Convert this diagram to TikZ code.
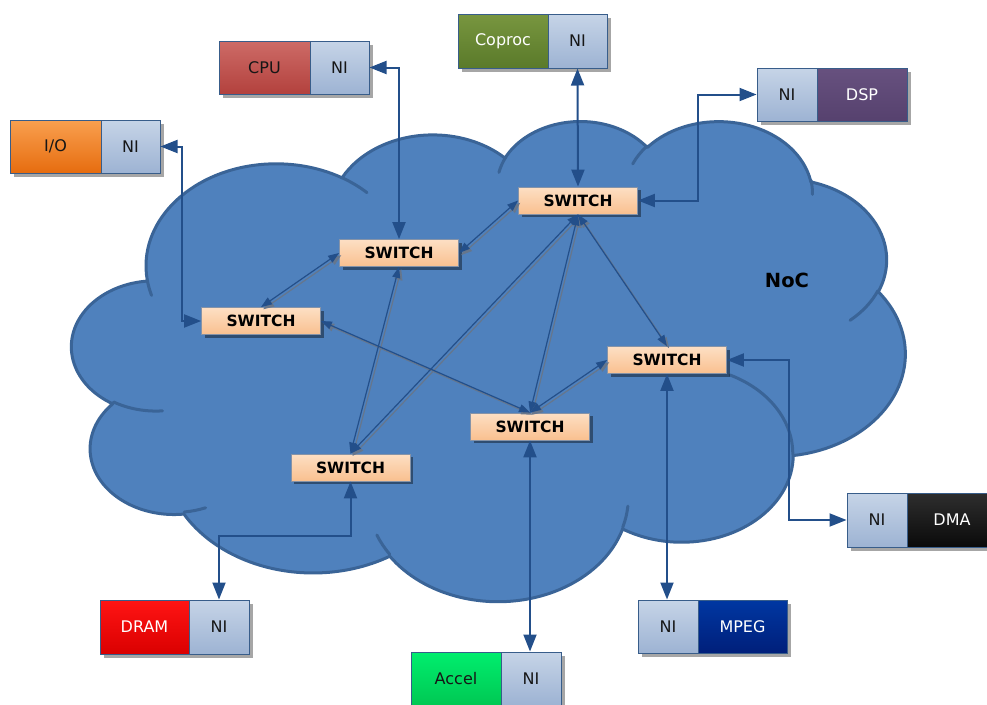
\documentclass[tikz,border=0pt]{standalone}
\usepackage{fontspec}
\setmainfont{DejaVu Sans}
\usetikzlibrary{arrows.meta,shadows}

\definecolor{cloudfill}{HTML}{4F81BD}
\definecolor{cloudline}{HTML}{3A6497}
\definecolor{boxline}{HTML}{385D8A}
\definecolor{linkblue}{HTML}{234F8A}
\definecolor{meshshade}{HTML}{66768C}
\definecolor{niTop}{HTML}{C6D4E7}
\definecolor{niBot}{HTML}{9DB3D3}
\definecolor{swTop}{HTML}{FDDFC4}
\definecolor{swBot}{HTML}{F9C08F}
\definecolor{swLine}{HTML}{8593A8}
\definecolor{txtdark}{HTML}{161616}
\definecolor{cpuTop}{HTML}{CD6B67}\definecolor{cpuBot}{HTML}{B3413D}
\definecolor{copTop}{HTML}{78963F}\definecolor{copBot}{HTML}{5A7A2A}
\definecolor{dspTop}{HTML}{67517F}\definecolor{dspBot}{HTML}{56416E}
\definecolor{ioTop}{HTML}{F9A04F}\definecolor{ioBot}{HTML}{E66C0F}
\definecolor{dmaTop}{HTML}{2E2E2E}\definecolor{dmaBot}{HTML}{0A0A0A}
\definecolor{mpgTop}{HTML}{0037A2}\definecolor{mpgBot}{HTML}{001F7A}
\definecolor{drmTop}{HTML}{FF1414}\definecolor{drmBot}{HTML}{DA0000}
\definecolor{accTop}{HTML}{00EE6E}\definecolor{accBot}{HTML}{00C853}

\newcommand\boxfont{\fontsize{16}{19}\selectfont}
\newcommand\swfont{\bfseries\fontsize{15.5}{18}\selectfont}

\tikzset{
  part/.style={draw=boxline, line width=1pt, inner sep=0pt, minimum height=53pt,
    font=\boxfont, text=txtdark,
    drop shadow={shadow xshift=3.5pt, shadow yshift=-3.5pt, fill=black, opacity=0.35}},
  nipart/.style={part, top color=niTop, bottom color=niBot, minimum width=59pt},
  unit/.style={part, top color=#1Top, bottom color=#1Bot, minimum width=90pt},
  switchbox/.style={draw=swLine, line width=0.8pt, inner sep=0pt,
    minimum width=119pt, minimum height=27pt, font=\swfont, text=black,
    top color=swTop, bottom color=swBot,
    drop shadow={shadow xshift=3pt, shadow yshift=-3pt, fill=black, opacity=0.4}},
  nilink/.style={draw=linkblue, line width=2pt,
    {Triangle[length=17pt,width=13pt]}-{Triangle[length=17pt,width=13pt]}},
  mesh/.style={draw=linkblue, line width=1.2pt,
    {Triangle[length=11pt,width=8pt]}-{Triangle[length=11pt,width=8pt]}},
  meshshadow/.style={mesh, draw=meshshade, transform canvas={shift={(2.2,2.2)}}}
}

\begin{document}
\begin{tikzpicture}[x=1pt,y=-1pt]
\useasboundingbox (0,0) rectangle (987,704);
\clip (0,0) rectangle (987,704);

% ---------- network cloud ----------
\begin{scope}[shift={(72,120)}]
\begin{scope}[x=1.92824pt,y=-1.11111pt]
\path[fill=cloudfill, draw=cloudline, line width=3pt, line join=round]
  (39.00,143.70)
  arc[start angle=172.253,  delta angle=128.111, x radius=67.53, y radius=91.90]
  arc[start angle=-152.055, delta angle=106.600, x radius=53.33, y radius=72.67]
  arc[start angle=-153.496, delta angle=116.178, x radius=43.65, y radius=59.45]
  arc[start angle=-139.711, delta angle=129.500, x radius=48.57, y radius=65.95]
  arc[start angle=-74.768,  delta angle=97.977,  x radius=53.33, y radius=72.73]
  arc[start angle=-37.515,  delta angle=119.377, x radius=67.75, y radius=92.20]
  arc[start angle=0.460,    delta angle=121.517, x radius=57.85, y radius=78.67]
  arc[start angle=16.844,   delta angle=129.380, x radius=67.52, y radius=92.15]
  arc[start angle=58.983,   delta angle=91.207,  x radius=77.20, y radius=105.43]
  arc[start angle=83.306,   delta angle=139.807, x radius=43.60, y radius=59.18]
  arc[start angle=120.36,   delta angle=143.752, x radius=43.45, y radius=59.45]
  -- cycle;
% inner folds of the lobes
\draw[cloudline, line width=3pt, line cap=round]
  (46.93,261.77)  arc[start angle=85.546,   delta angle=34.814, x radius=43.45, y radius=59.45]
  (69.28,348.99)  arc[start angle=68.236,   delta angle=15.070, x radius=43.60, y radius=59.18]
  (164.78,390.90) arc[start angle=146.224,  delta angle=12.250, x radius=67.52, y radius=92.15]
  (288.27,347.51) arc[start angle=4.738,    delta angle=12.106, x radius=67.52, y radius=92.15]
  (341.29,229.54) arc[start angle=-64.021,  delta angle=64.481, x radius=57.85, y radius=78.67]
  (417.98,153.54) arc[start angle=23.209,   delta angle=26.433, x radius=53.33, y radius=72.73]
  (383.24,54.26)  arc[start angle=-10.211,  delta angle=11.032, x radius=48.57, y radius=65.95]
  (290.78,39.52)  arc[start angle=-156.285, delta angle=16.574, x radius=48.57, y radius=65.95]
  (221.41,47.20)  arc[start angle=-167.726, delta angle=14.230, x radius=43.65, y radius=59.45]
  (140.00,51.92)  arc[start angle=-59.636,  delta angle=13.902, x radius=67.53, y radius=91.90]
  (41.27,157.89)  arc[start angle=163.193,  delta angle=9.060,  x radius=67.53, y radius=91.90];
\end{scope}
\end{scope}

% ---------- switches ----------
\node[switchbox] (s1) at (578,200.5) {SWITCH};
\node[switchbox] (s2) at (399,253)   {SWITCH};
\node[switchbox] (s3) at (261,321)   {SWITCH};
\node[switchbox] (s4) at (667,360)   {SWITCH};
\node[switchbox] (s5) at (530,426.5) {SWITCH};
\node[switchbox] (s6) at (350.5,467.5) {SWITCH};

\node[font=\bfseries\fontsize{19.5}{23}\selectfont, text=black] (noc) at (787,280) {NoC};

% ---------- processing elements with network interfaces ----------
\node[unit=cpu, minimum width=91pt] (cpu) at (264.5,67.5) {CPU};
\node[nipart] (cpuni) at (339.5,67.5) {NI};

\node[unit=cop, minimum height=54pt, text=white] (coproc) at (503,41) {Coproc};
\node[nipart, minimum height=54pt] (coprocni) at (577.5,41) {NI};

\node[nipart, minimum width=60pt] (dspni) at (787,94.5) {NI};
\node[unit=dsp, text=white] (dsp) at (862,94.5) {DSP};

\node[unit=io, minimum width=91pt] (io) at (55.5,146.5) {I/O};
\node[nipart] (ioni) at (130.5,146.5) {NI};

\node[nipart, minimum width=60pt, minimum height=54pt] (dmani) at (877,520) {NI};
\node[unit=dma, minimum height=54pt, text=white] (dma) at (952,520) {DMA};

\node[nipart, minimum width=60pt] (mpegni) at (668,626.5) {NI};
\node[unit=mpg, minimum width=89pt, text=white] (mpeg) at (742.5,626.5) {MPEG};

\node[unit=drm, minimum width=89pt, minimum height=54pt, text=white] (dram) at (144.5,627) {DRAM};
\node[nipart, minimum width=60pt, minimum height=54pt] (dramni) at (219,627) {NI};

\node[unit=acc] (accel) at (456,678.5) {Accel};
\node[nipart, minimum width=60pt] (accelni) at (531,678.5) {NI};

% bend points of the NI links
\coordinate (dspcol) at (698,0);
\coordinate (iocol) at (182,0);
\coordinate (dmacol) at (789,0);
\coordinate (dramrow) at (0,536);

% ---------- NI to switch links ----------
\draw[nilink] (cpuni.east) -| (s2.north);
\draw[nilink] (coprocni.south) -- (s1.north);
\draw[nilink] (s1.east) -| (dspcol |- dspni.west) -- (dspni.west);
\draw[nilink] (ioni.east) -| (iocol |- s3.west) -- (s3.west);
\draw[nilink] (s4.east) -| (dmacol |- dmani.west) -- (dmani.west);
\draw[nilink] (s4.south) -- (s4.south |- mpegni.north);
\draw[nilink] (s5.south) -- (s5.south |- accelni.north);
\draw[nilink] (s6.south) -- (s6.south |- dramrow) -| (dramni.north);

% ---------- switch to switch links ----------
\foreach \a/\b in {s1.west/s2.east, s2.west/s3.north, s3.east/s5.north,
                   s5.north/s4.west, s1.south/s4.north, s1.south/s5.north,
                   s1.south/s6.north, s2.south/s6.north}
  \draw[meshshadow] (\a) -- (\b);
\foreach \a/\b in {s1.west/s2.east, s2.west/s3.north, s3.east/s5.north,
                   s5.north/s4.west, s1.south/s4.north, s1.south/s5.north,
                   s1.south/s6.north, s2.south/s6.north}
  \draw[mesh] (\a) -- (\b);
\end{tikzpicture}
\end{document}
